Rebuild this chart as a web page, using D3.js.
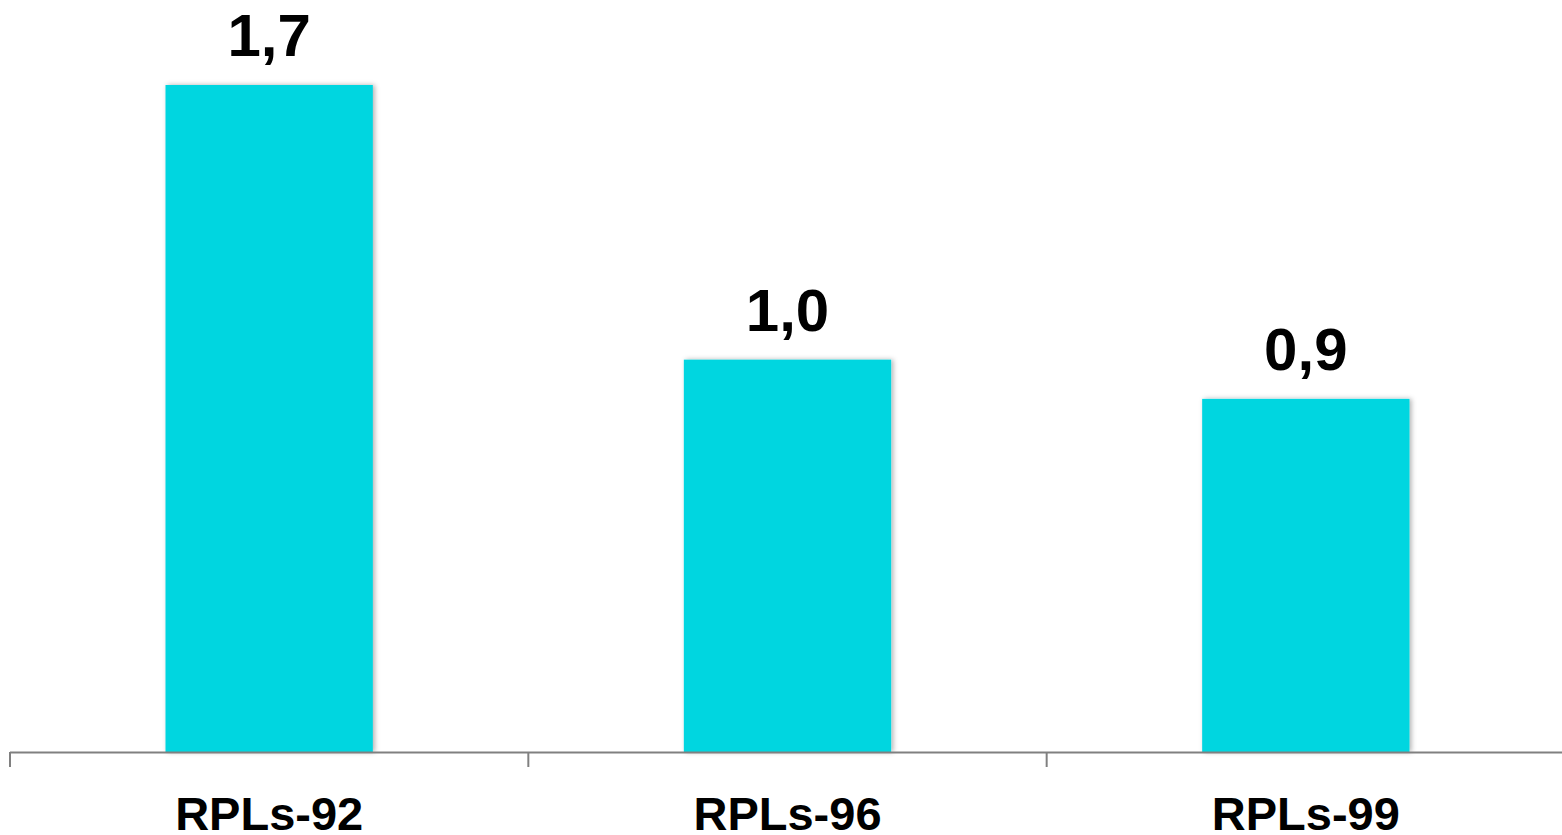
<!DOCTYPE html>
<html><head><meta charset="utf-8">
<script src="https://cdn.jsdelivr.net/npm/d3@7"></script>
<style>html,body{margin:0;padding:0;background:#fff;overflow:hidden}</style>
</head><body>
<svg id="chart" width="1562" height="835"></svg>
<script>
const categories = ["RPLs-92", "RPLs-96", "RPLs-99"];
const values = [1.7, 1.0, 0.9];
const valueLabels = ["1,7", "1,0", "0,9"];

const svg = d3.select("#chart");
const x = d3.scaleBand().domain(categories).range([10, 1565]).paddingInner(0.6).paddingOuter(0.3);
const y = d3.scaleLinear().domain([0, 1.7]).range([752, 85]);

const defs = svg.append("defs");
const f = defs.append("filter").attr("id","sh").attr("x","-10%").attr("y","-10%").attr("width","120%").attr("height","120%");
f.append("feDropShadow").attr("dx",2).attr("dy",0).attr("stdDeviation",2.5).attr("flood-color","#000").attr("flood-opacity",0.3);

svg.append("g").selectAll("rect").data(categories).join("rect")
  .attr("x", d => x(d)).attr("width", x.bandwidth())
  .attr("y", (d,i) => y(values[i])).attr("height", (d,i) => y(0) - y(values[i]))
  .attr("fill", "#00D6E0").attr("filter","url(#sh)");

// axis
const axisG = svg.append("g");
axisG.append("line").attr("x1", 10).attr("x2", 1565).attr("y1", 752.5).attr("y2", 752.5)
  .attr("stroke", "#808080").attr("stroke-width", 2);
const step = x.step();
const bounds = categories.map(c => x(c) - (step - x.bandwidth())/2);
axisG.selectAll("line.tick").data(bounds).join("line").attr("class","tick")
  .attr("x1", d => d).attr("x2", d => d).attr("y1", 752).attr("y2", 767)
  .attr("stroke", "#808080").attr("stroke-width", 2);

svg.append("g").selectAll("text").data(categories).join("text")
  .attr("x", d => x(d) + x.bandwidth()/2).attr("y", 830)
  .attr("text-anchor","middle")
  .style("font-family","'Liberation Sans', Arial, sans-serif").style("font-weight","bold").style("font-size","47px")
  .attr("fill","#000").text(d => d);

svg.append("g").selectAll("text").data(categories).join("text")
  .attr("x", d => x(d) + x.bandwidth()/2).attr("y", (d,i) => y(values[i]) - 29)
  .attr("text-anchor","middle")
  .style("font-family","'Liberation Sans', Arial, sans-serif").style("font-weight","bold").style("font-size","60px")
  .attr("fill","#000").text((d,i) => valueLabels[i]);
</script>
</body></html>
